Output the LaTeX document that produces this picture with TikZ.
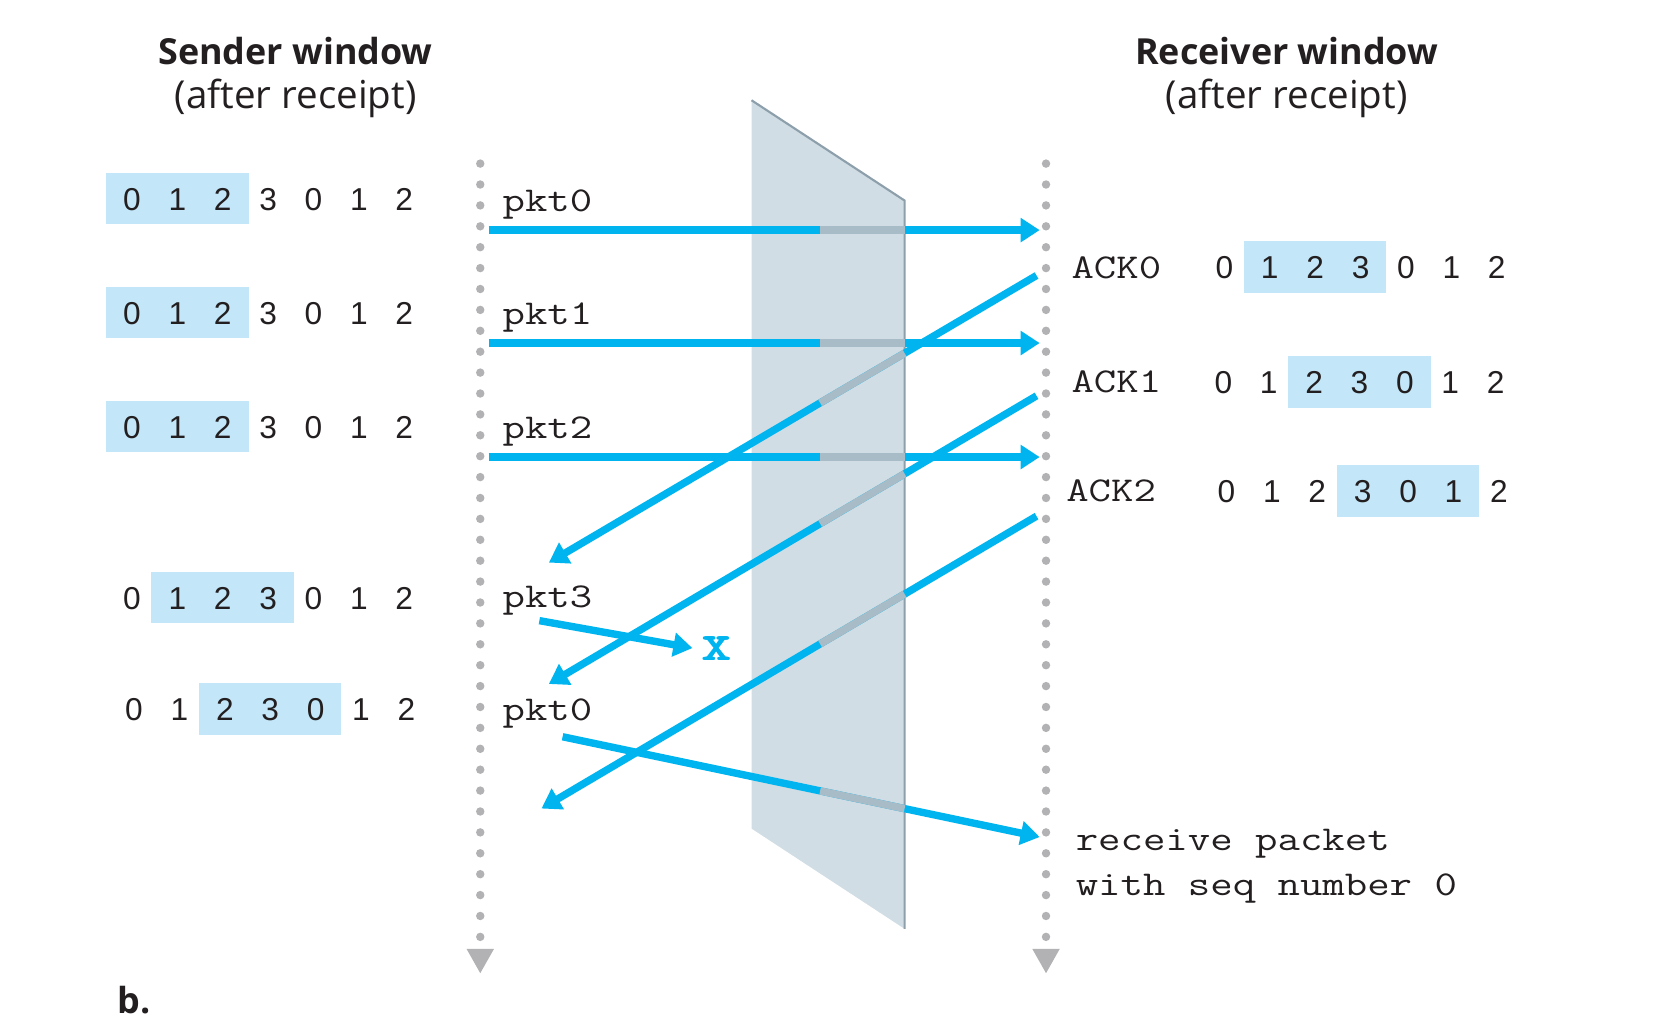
\documentclass[tikz,border=0pt]{standalone}
\usepackage{fontspec}
\usepackage{graphicx}
\setmainfont{Liberation Sans}
\newfontfamily\headfont{Open Sans}
\usetikzlibrary{arrows.meta}
\definecolor{netblue}{HTML}{00B5EF}
\definecolor{hlblue}{HTML}{C3E7F8}
\definecolor{panelfill}{HTML}{D1DDE4}
\definecolor{paneledge}{HTML}{8C9FAB}
\definecolor{behind}{HTML}{A8BCC7}
\definecolor{dotgray}{HTML}{B2B2B4}
\definecolor{inkgray}{HTML}{231F20}
\newcommand\digfnt{\fontsize{30}{30}\selectfont}
\newcommand\pktfnt{\fontsize{33}{33}\selectfont\ttfamily}
\newcommand\headfnt{\headfont\fontsize{34}{40}\selectfont}
\newcommand\subfnt{\headfont\fontsize{36.5}{40}\selectfont}
\newcommand\mtext[1]{\scalebox{1.25}[1]{#1}}
\newcommand\fakebold[1]{\rlap{#1}\kern0.8pt\rlap{#1}\kern0.8pt\rlap{#1}\kern0.8pt#1}
\newcommand\seqrow[4]{%
  \node[hlbox] (#1box) at ({#2+(#4+1)*43},{#3-11}) {};
  \foreach \d [count=\k from 0] in {0,1,2,3,0,1,2}
    {\node[digit] (#1d\k) at ({#2+\k*43},#3) {\d};}%
}
\begin{document}
\begin{tikzpicture}[x=1pt,y=-1pt,
  every node/.style={text=inkgray},
  head/.style={font=\headfnt, anchor=base, inner sep=0pt},
  subhead/.style={font=\subfnt, anchor=base, inner sep=0pt},
  digit/.style={font=\digfnt, anchor=base, inner sep=0pt},
  hlbox/.style={fill=hlblue, draw=none, minimum width=135pt, minimum height=49pt, inner sep=0pt},
  lbl/.style={font=\pktfnt, anchor=base west, inner sep=0pt},
  timeline/.style={dotgray, line width=8pt, line cap=round, dash pattern=on 0pt off 19.8pt},
  msg/.style={netblue, line width=7pt, -{Triangle[length=18pt,width=22pt]}},
  behindseg/.style={behind, line width=7pt}
]
\useasboundingbox (0,0) rectangle (1567,970.5);

% headings
\node[head] (sendh) at (280,61) {\bfseries Sender window};
\node[subhead] (sendh2) at (280,103) {(after receipt)};
\node[head] (recvh) at (1219,61) {\bfseries Receiver window};
\node[subhead] (recvh2) at (1219,103) {(after receipt)};
\node[head, anchor=base west] (figb) at (111,960) {\bfseries b.};

% panel (channel)
\fill[panelfill] (712,95) -- (857,190) -- (857,880) -- (712,785) -- cycle;
\draw[paneledge, line width=2pt] (712,95) -- (857,190) -- (857,880);

% time lines
\coordinate (ltop) at (455,155); \coordinate (lbot) at (455,888);
\coordinate (rtop) at (991,155); \coordinate (rbot) at (991,888);
\draw[timeline] (ltop) -- (lbot);
\draw[timeline] (rtop) -- (rbot);
\fill[dotgray] (442,899) -- (468,899) -- (455,922) -- cycle;
\fill[dotgray] (978,899) -- (1004,899) -- (991,922) -- cycle;

% sender windows
\seqrow{s1}{125}{199}{0}
\seqrow{s2}{125}{307}{0}
\seqrow{s3}{125}{415}{0}
\seqrow{s4}{125}{577}{1}
\seqrow{s5}{127}{683}{2}

% receiver windows
\seqrow{r1}{1160}{264}{1}
\seqrow{r2}{1159}{373}{2}
\seqrow{r3}{1162}{476}{3}

% labels
\node[lbl] (lp0) at (476,200) {\mtext{pkt0}};
\node[lbl] (lp1) at (476,307) {\mtext{pkt1}};
\node[lbl] (lp2) at (476,415) {\mtext{pkt2}};
\node[lbl] (lp3) at (476,576) {\mtext{pkt3}};
\node[lbl] (lp4) at (476,683) {\mtext{pkt0}};
\node[lbl] (la0) at (1015,264) {\mtext{ACK0}};
\node[lbl] (la1) at (1015,372) {\mtext{ACK1}};
\node[lbl] (la2) at (1010,475) {\mtext{ACK2}};
\node[lbl] (rc1) at (1019,806) {\mtext{receive packet}};
\node[lbl] (rc2) at (1019,848) {\mtext{with seq number 0}};
\node[font=\fontsize{52}{52}\selectfont\ttfamily, text=netblue, inner sep=0pt] (lost) at (679,615) {\fakebold{x}};

% message end points
\coordinate (m0s) at (463,218); \coordinate (m0e) at (985,218);
\coordinate (m1s) at (463,325); \coordinate (m1e) at (985,325);
\coordinate (m2s) at (463,433); \coordinate (m2e) at (985,433);
\coordinate (a0s) at (982,261); \coordinate (a0e) at (520,533);
\coordinate (a1s) at (982,375); \coordinate (a1e) at (520,648);
\coordinate (a2s) at (982,489); \coordinate (a2e) at (513,766);
\coordinate (m3s) at (511,588); \coordinate (m3e) at (656,614);
\coordinate (m4s) at (533,698); \coordinate (m4e) at (985,793);

% messages
\draw[msg] (m0s) -- (m0e);
\draw[msg] (m1s) -- (m1e);
\draw[msg] (m2s) -- (m2e);
\draw[msg] (a0s) -- (a0e);
\draw[msg] (a1s) -- (a1e);
\draw[msg] (a2s) -- (a2e);
\draw[msg] (m3s) -- (m3e);
\draw[msg] (m4s) -- (m4e);

% parts seen behind the channel plane
\coordinate (g0a) at (777,218); \coordinate (g0b) at (857,218);
\coordinate (g1a) at (777,325); \coordinate (g1b) at (857,325);
\coordinate (g2a) at (777,433); \coordinate (g2b) at (857,433);
\coordinate (h0a) at (777,381.7); \coordinate (h0b) at (857,334.6);
\coordinate (h1a) at (777,496.1); \coordinate (h1b) at (857,448.9);
\coordinate (h2a) at (777,610.1); \coordinate (h2b) at (857,562.8);
\coordinate (g4a) at (777,749.3); \coordinate (g4b) at (857,766.1);
\draw[behindseg] (g0a) -- (g0b);
\draw[behindseg] (g1a) -- (g1b);
\draw[behindseg] (g2a) -- (g2b);
\draw[behindseg] (h0a) -- (h0b);
\draw[behindseg] (h1a) -- (h1b);
\draw[behindseg] (h2a) -- (h2b);
\draw[behindseg] (g4a) -- (g4b);
\end{tikzpicture}
\end{document}
